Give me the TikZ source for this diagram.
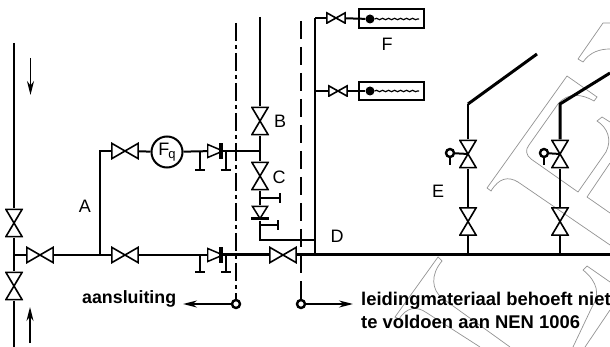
\documentclass[tikz,border=0pt]{standalone}
\usepackage{fontspec}
\setmainfont{Liberation Sans}
\usetikzlibrary{arrows.meta,decorations.pathmorphing}

\begin{document}
\begin{tikzpicture}[x=1pt,y=-1pt]
    \tikzstyle{pipe} = [line width=2pt]
    \tikzstyle{mainpipe} = [line width=3pt]
    \tikzstyle{arrow} = [-{Stealth[length=14pt,width=7pt]}, line width=1.6pt]
    \tikzstyle{sheet} = [gray!85, line width=0.7pt]
    \tikzstyle{label} = [inner sep=0pt, font=\fontsize{18}{18}\selectfont]
    \tikzstyle{wording} = [label, font=\bfseries\fontsize{17.8}{18}\selectfont]
    \tikzstyle{valveh} = [rectangle, inner sep=0pt, minimum width=28pt,
        minimum height=17pt, path picture={
        \draw[line width=1.6pt]
            ([shift={(0.9pt,0.9pt)}]path picture bounding box.south west)
            -- ([shift={(-0.9pt,-0.9pt)}]path picture bounding box.north east)
            -- ([shift={(-0.9pt,0.9pt)}]path picture bounding box.south east)
            -- ([shift={(0.9pt,-0.9pt)}]path picture bounding box.north west) -- cycle;}]
    \tikzstyle{valvev} = [rectangle, inner sep=0pt, minimum width=18pt,
        minimum height=29pt, path picture={
        \draw[line width=1.6pt]
            ([shift={(0.9pt,0.9pt)}]path picture bounding box.south west)
            -- ([shift={(-0.9pt,-0.9pt)}]path picture bounding box.north east)
            -- ([shift={(0.9pt,-0.9pt)}]path picture bounding box.north west)
            -- ([shift={(-0.9pt,0.9pt)}]path picture bounding box.south east) -- cycle;}]
    \tikzstyle{valvesm} = [valveh, minimum width=20pt, minimum height=12pt]
    \tikzstyle{checkh} = [rectangle, inner sep=0pt, minimum width=16pt,
        minimum height=16pt, path picture={
        \draw[line width=1.5pt] (path picture bounding box.west)
            ++(0.7,-6.5) -- (path picture bounding box.east) -- ++(-15.3,6.5) -- cycle;
        \fill (path picture bounding box.north east) rectangle ++(-4,16);}]
    \tikzstyle{checkv} = [rectangle, inner sep=0pt, minimum width=18pt,
        minimum height=15pt, path picture={
        \draw[line width=1.5pt] (path picture bounding box.north west)
            ++(1.5,1) -- ++(15,0) -- ++(-7.5,12) -- cycle;
        \fill (path picture bounding box.south west) rectangle ++(18,-3);}]
    \tikzstyle{plugh} = [rectangle, fill=black, inner sep=0pt, minimum width=10pt,
        minimum height=2.2pt]
    \tikzstyle{plugv} = [plugh, minimum width=2.2pt, minimum height=10pt]
    \tikzstyle{ring} = [circle, draw=black, fill=white, line width=2.4pt, inner sep=0pt,
        minimum size=8pt]
    \tikzstyle{heater} = [rectangle, draw=black, line width=2pt, inner sep=0pt,
        minimum width=65pt, minimum height=18.5pt]
    \tikzstyle{bulb} = [circle, fill=black, inner sep=0pt, minimum size=9pt]

    \fill[white] (0,0) rectangle (610,347);
    \useasboundingbox (0,0) rectangle (610,347);

    %\draw[step=50pt,gray,very thin] (0,0) grid (610,347);
    % sheet outline behind the drawing
    \draw[sheet] (610,245) -- (518,182) .. controls (508,176) and (499,178) .. (491,191)
        -- (487,188) -- (567,76) -- (597,97) -- (594,101)
        .. controls (582,94) and (568,92) .. (558,104)
        -- (529,145) .. controls (525,150) and (526,155) .. (531,159)
        -- (578,192) -- (606,152) .. controls (612,140) and (608,128) .. (597,121)
        -- (602,117) -- (610,122);
    \draw[sheet] (610,163) -- (587,197) -- (610,213);
    \draw[sheet] (610,23) -- (603,23) -- (578,59) -- (583,62)
        .. controls (590,52) and (600,49) .. (610,49);
    \draw[sheet] (510,347) -- (442,298) .. controls (432,290) and (430,275) .. (442,261)
        -- (438,257) -- (395,317) -- (399,319)
        .. controls (406,308) and (416,305) .. (427,313) -- (480,347);
    \draw[sheet] (610,282) -- (587,266) -- (583,270)
        .. controls (598,282) and (600,295) .. (592,307) -- (573,347);
    \draw[sheet] (610,310) -- (585,347);

    \node(vleftA) [valvev] at (14,223) {};
    \node(vleftB) [valvev] at (14,286) {};
    \node(vin) [valveh] at (40,255) {};
    \node(vtop) [valveh] at (125,151) {};
    \node(flow) [circle, draw=black, line width=2pt, inner sep=0pt, minimum size=31pt,
        font=\fontsize{18}{18}\selectfont] at (167,152)
        {F\kern-1pt\raisebox{-3pt}{\fontsize{13}{13}\selectfont q}};
    \node(ctop) [checkh] at (215,151) {};
    \node(vlow) [valveh] at (125,255) {};
    \node(clow) [checkh] at (215,255) {};
    \node(vD) [valveh] at (283,255) {};
    \node(vB) [valvev] at (260,121) {};
    \node(vC) [valvev] at (260,176) {};
    \node(cC) [checkv] at (260,213) {};
    \node(vF) [valvesm] at (336,18) {};
    \node(vG) [valvesm] at (338,91) {};
    \node(boxF) [heater] at (391.5,18.5) {};
    \node(boxG) [heater] at (391.5,91) {};
    \node(bulbF) [bulb] at (370,19) {};
    \node(bulbG) [bulb] at (370,91) {};
    \node(vEa) [valvev] at (468,154) {};
    \node(vEb) [valvev] at (468,221.5) {};
    \node(vEc) [valvev] at (560,154) {};
    \node(vEd) [valvev] at (560,221.5) {};
    \node(opE) [ring] at (450,153) {};
    \node(opF) [ring] at (544,153) {};
    \node(endL) [ring] at (236,304) {};
    \node(endR) [ring] at (301,304) {};

    \node(plugA) [plugh] at (200,170) {};
    \node(plugB) [plugh] at (226,170) {};
    \node(plugC) [plugh] at (200,272) {};
    \node(plugD) [plugh] at (226,272) {};
    \node(plugE) [plugv] at (280,198) {};
    \node(plugG) [plugv] at (278,225) {};

    \coordinate(topL) at (14,43);
    \coordinate(botL) at (14,347);
    \coordinate(jleft) at (14,255);
    \coordinate(jA) at (100,255);
    \coordinate(kA) at (100,151);
    \coordinate(jBC) at (260,151);
    \coordinate(topB) at (260,17);
    \coordinate(jD) at (260,240);
    \coordinate(jR) at (315,240);
    \coordinate(topR) at (315,18);
    \coordinate(jG) at (315,91);
    \coordinate(jmain) at (315,255);
    \coordinate(endM) at (610,255);
    \coordinate(kE) at (468,104);
    \coordinate(kF) at (560,104);
    \coordinate(tipE) at (537,54);
    \coordinate(tipF) at (610,73);
    \coordinate(wireF) at (419,19);
    \coordinate(wireG) at (419,91);
    \coordinate(dashL) at (236,23);
    \coordinate(dashR) at (301,21);
    \coordinate(arrL) at (183,304);
    \coordinate(arrR) at (353,304);
    \coordinate(stemE) at (450,165);
    \coordinate(stemF) at (544,165);
    \coordinate(arrTa) at (30.5,58);
    \coordinate(arrTb) at (30.5,95);
    \coordinate(arrBa) at (30,343);
    \coordinate(arrBb) at (30,307);
    \coordinate(teeA) at (200,151);
    \coordinate(teeB) at (226,151);
    \coordinate(teeC) at (200,255);
    \coordinate(teeD) at (226,255);
    \coordinate(teeE) at (260,198);
    \coordinate(teeG) at (260,225);
    \coordinate(jEa) at (468,255);
    \coordinate(jEb) at (560,255);

    % left riser
    \draw[pipe] (topL) -- (vleftA);
    \draw[pipe] (vleftA) -- (vleftB);
    \draw[pipe] (vleftB) -- (botL);
    \draw[pipe] (jleft) -- (vin);
    \draw[pipe] (vin) -- (vlow);
    \draw[pipe] (jA) -- (kA) -- (vtop);
    \draw[pipe] (vtop) -- (flow);
    \draw[pipe] (flow) -- (ctop);
    \draw[pipe] (ctop) -- (jBC);
    \draw[pipe] (vlow) -- (clow);
    \draw[mainpipe] (clow) -- (vD);
    \draw[pipe] (teeA) -- (plugA);
    \draw[pipe] (teeB) -- (plugB);
    \draw[pipe] (teeC) -- (plugC);
    \draw[pipe] (teeD) -- (plugD);

    \draw[pipe] (topB) -- (vB);
    \draw[pipe] (vB) -- (vC);
    \draw[pipe] (vC) -- (cC);
    \draw[pipe] (teeE) -- (plugE);
    \draw[pipe] (teeG) -- (plugG);
    \draw[pipe] (cC) -- (jD) -- (jR);
    \draw[pipe] (topR) -- (jmain);
    \draw[pipe] (topR) -- (vF);
    \draw[pipe] (jG) -- (vG);
    \draw[pipe] (vF) -- (bulbF);
    \draw[pipe] (vG) -- (bulbG);
    \draw[line width=1.2pt, decorate, decoration={snake, amplitude=0.7pt, segment length=6pt}]
        (bulbF) -- (wireF);
    \draw[line width=1.2pt, decorate, decoration={snake, amplitude=0.7pt, segment length=6pt}]
        (bulbG) -- (wireG);

    \draw[mainpipe] (vD) -- (endM);
    \draw[pipe] (jEa) -- (vEb);
    \draw[pipe] (vEb) -- (vEa);
    \draw[pipe] (vEa) -- (kE);
    \draw[mainpipe] (kE) -- (tipE);
    \draw[pipe] (jEb) -- (vEd);
    \draw[pipe] (vEd) -- (vEc);
    \draw[mainpipe] (vEc) -- (kF) -- (tipF);
    \draw[pipe] (opE) -- (vEa.center);
    \draw[pipe] (opF) -- (vEc.center);
    \draw[line width=2.4pt] (opE) -- (stemE);
    \draw[line width=2.4pt] (opF) -- (stemF);

    % boundary lines
    \draw[line width=2.5pt, dash pattern=on 18pt off 4pt on 4pt off 4pt] (dashL) -- (endL);
    \draw[line width=2.5pt, dash pattern=on 18pt off 8pt] (dashR) -- (endR);
    \draw[arrow] (endL) -- (arrL);
    \draw[arrow] (endR) -- (arrR);
    \draw[arrow] (arrTa) -- (arrTb);
    \draw[arrow] (arrBa) -- (arrBb);

    \node(labA) [label] at (85,206) {A};
    \node(labB) [label] at (280,121) {B};
    \node(labC) [label] at (279,177) {C};
    \node(labD) [label] at (337,236) {D};
    \node(labE) [label] at (438,191) {E};
    \node(labF) [label] at (387,44) {F};
    \node(aans) [wording, anchor=base west] at (82,303) {aansluiting};
    \node(leid) [wording, font=\bfseries\fontsize{18.4}{20}\selectfont, anchor=base west]
        at (361,305) {leidingmateriaal behoeft niet};
    \node(nen) [wording, font=\bfseries\fontsize{18.4}{20}\selectfont, anchor=base west]
        at (361,328) {te voldoen aan NEN 1006};
\end{tikzpicture}
\end{document}
